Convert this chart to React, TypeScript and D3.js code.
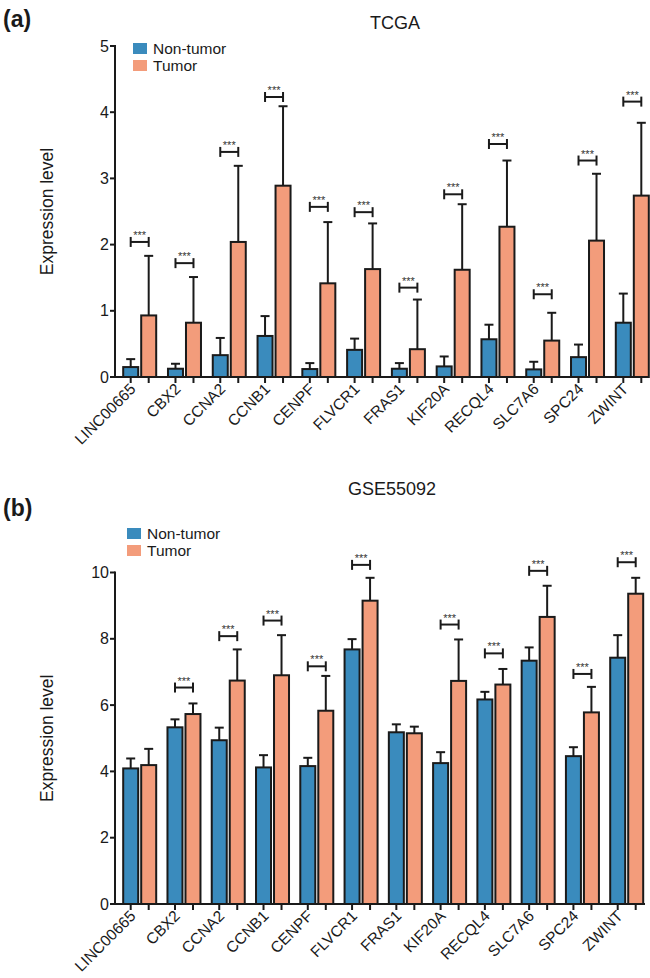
import React from "react";
import * as d3 from "d3";

const width = 650;
const height = 978;
const font = "'Liberation Sans', Arial, sans-serif";

const blue = "#3a8bbd";
const orange = "#f39c7b";
const ink = "#1a1a1a";

const genes = [
  "LINC00665", "CBX2", "CCNA2", "CCNB1", "CENPF", "FLVCR1",
  "FRAS1", "KIF20A", "RECQL4", "SLC7A6", "SPC24", "ZWINT"
];
const groups = ["Non-tumor", "Tumor"];

// TCGA panel
const tcgaNormal = [0.15, 0.125, 0.33, 0.62, 0.12, 0.41, 0.125, 0.16, 0.57, 0.115, 0.3, 0.82];
const tcgaNormalSd = [0.12, 0.075, 0.26, 0.3, 0.09, 0.17, 0.085, 0.15, 0.22, 0.115, 0.19, 0.44];
const tcgaTumor = [0.93, 0.82, 2.04, 2.89, 1.415, 1.63, 0.42, 1.62, 2.27, 0.55, 2.06, 2.74];
const tcgaTumorSd = [0.9, 0.69, 1.15, 1.2, 0.925, 0.69, 0.75, 0.99, 1.0, 0.42, 1.01, 1.1];
const tcgaBracket = [2.04, 1.72, 3.4, 4.23, 2.57, 2.49, 1.35, 2.76, 3.52, 1.25, 3.27, 4.16];
const tcgaTicks = [0, 1, 2, 3, 4, 5];

// GSE55092 panel
const gseNormal = [4.09, 5.33, 4.94, 4.12, 4.16, 7.68, 5.18, 4.25, 6.17, 7.34, 4.46, 7.43];
const gseNormalSd = [0.3, 0.24, 0.38, 0.37, 0.25, 0.31, 0.24, 0.33, 0.23, 0.4, 0.27, 0.68];
const gseTumor = [4.19, 5.73, 6.74, 6.9, 5.83, 9.15, 5.15, 6.73, 6.62, 8.66, 5.78, 9.36];
const gseTumorSd = [0.49, 0.32, 0.94, 1.21, 1.05, 0.69, 0.2, 1.25, 0.47, 0.94, 0.77, 0.48];
const gseBracket = [null, 6.53, 8.08, 8.55, 7.17, 10.23, null, 8.43, 7.56, 10.05, 6.94, 10.31];
const gseTicks = [0, 2, 4, 6, 8, 10];

type PanelProps = {
  letter: string;
  title: string;
  top: number; // y of panel letter baseline
  y0: number;
  yTop: number;
  yMax: number;
  xFirst: number;
  xLast: number;
  axisEnd: number;
  ticks: number[];
  normal: number[];
  normalSd: number[];
  tumor: number[];
  tumorSd: number[];
  bracket: (number | null)[];
  legendX: number;
  legendY: number;
  titleX: number;
  titleY: number;
};

function Panel(p: PanelProps) {
  const axisX = 115;
  const x = d3.scalePoint().domain(genes).range([p.xFirst, p.xLast]);
  const sub = d3.scalePoint().domain(groups).range([-9, 9]);
  const y = d3.scaleLinear().domain([0, p.yMax]).range([p.y0, p.yTop]);
  const bw = 15;

  const bars = genes.flatMap((g, i) => [
    { g, key: groups[0], v: p.normal[i], sd: p.normalSd[i], fill: blue },
    { g, key: groups[1], v: p.tumor[i], sd: p.tumorSd[i], fill: orange }
  ]);

  return (
    <g>
      <text x={3} y={p.top} fontFamily={font} fontWeight="bold" fontSize={23} fill={ink}>
        ({p.letter})
      </text>
      <text x={p.titleX} y={p.titleY} fontFamily={font} fontSize={18} textAnchor="middle" fill={ink}>
        {p.title}
      </text>
      {/* legend */}
      {groups.map((gName, i) => (
        <g key={gName} transform={`translate(${p.legendX},${p.legendY + i * 17})`}>
          <rect x={0} y={0} width={14} height={11} fill={i === 0 ? blue : orange} />
          <text x={20} y={10.5} fontFamily={font} fontSize={15.5} fill={ink}>
            {gName}
          </text>
        </g>
      ))}
      {/* y axis title */}
      <text
        transform={`translate(53,${(p.y0 + p.yTop) / 2}) rotate(-90)`}
        textAnchor="middle"
        fontFamily={font}
        fontSize={17.5}
        fill={ink}
      >
        Expression level
      </text>
      {/* bars */}
      {bars.map((d, i) => {
        const cx = (x(d.g) as number) + (sub(d.key) as number);
        const top = y(d.v);
        const eTop = y(d.v + d.sd);
        return (
          <g key={i}>
            <line x1={cx} x2={cx} y1={top} y2={eTop} stroke={ink} strokeWidth={2} />
            <line x1={cx - 4.5} x2={cx + 4.5} y1={eTop} y2={eTop} stroke={ink} strokeWidth={2} />
            <rect
              x={cx - bw / 2}
              y={top}
              width={bw}
              height={p.y0 - top}
              fill={d.fill}
              stroke={ink}
              strokeWidth={2}
            />
          </g>
        );
      })}
      {/* significance brackets */}
      {genes.map((g, i) => {
        const b = p.bracket[i];
        if (b == null) return null;
        const x1 = (x(g) as number) + (sub(groups[0]) as number);
        const x2 = (x(g) as number) + (sub(groups[1]) as number);
        const by = y(b);
        return (
          <g key={g}>
            <line x1={x1} x2={x2} y1={by} y2={by} stroke={ink} strokeWidth={2} />
            <line x1={x1} x2={x1} y1={by - 5} y2={by + 5} stroke={ink} strokeWidth={2} />
            <line x1={x2} x2={x2} y1={by - 5} y2={by + 5} stroke={ink} strokeWidth={2} />
            <text
              x={(x1 + x2) / 2}
              y={by - 3}
              textAnchor="middle"
              fontFamily={font}
              fontSize={11}
              fill="#333"
            >
              ***
            </text>
          </g>
        );
      })}
      {/* y axis */}
      <line x1={axisX} x2={axisX} y1={p.y0 + 1} y2={p.yTop - 1} stroke={ink} strokeWidth={2} />
      {p.ticks.map((t) => (
        <g key={t}>
          <line x1={axisX - 5} x2={axisX} y1={y(t)} y2={y(t)} stroke={ink} strokeWidth={2} />
          <text
            x={axisX - 6}
            y={y(t)}
            dy="0.35em"
            textAnchor="end"
            fontFamily={font}
            fontSize={16}
            fill={ink}
          >
            {t}
          </text>
        </g>
      ))}
      {/* x axis */}
      <line x1={axisX - 1} x2={p.axisEnd} y1={p.y0} y2={p.y0} stroke={ink} strokeWidth={2} />
      {bars.map((d, i) => {
        const cx = (x(d.g) as number) + (sub(d.key) as number);
        return <line key={i} x1={cx} x2={cx} y1={p.y0} y2={p.y0 + 6} stroke={ink} strokeWidth={2} />;
      })}
      {genes.map((g) => (
        <text
          key={g}
          transform={`translate(${(x(g) as number) - 3},${p.y0 + 13}) rotate(-45)`}
          textAnchor="end"
          fontFamily={font}
          fontSize={15.5}
          fill={ink}
        >
          {g}
        </text>
      ))}
    </g>
  );
}

export default function App() {
  return (
    <svg width={width} height={height} style={{ display: "block", position: "absolute", left: 0, top: 0, background: "#fff" }}>
      <rect width={width} height={height} fill="#fff" />
      <Panel
        letter="a"
        title="TCGA"
        top={27}
        y0={377}
        yTop={46}
        yMax={5}
        xFirst={139.7}
        xLast={632.3}
        axisEnd={649}
        ticks={tcgaTicks}
        normal={tcgaNormal}
        normalSd={tcgaNormalSd}
        tumor={tcgaTumor}
        tumorSd={tcgaTumorSd}
        bracket={tcgaBracket}
        legendX={133}
        legendY={43}
        titleX={395}
        titleY={29}
      />
      <Panel
        letter="b"
        title="GSE55092"
        top={516}
        y0={904}
        yTop={572.5}
        yMax={10}
        xFirst={139.7}
        xLast={626.7}
        axisEnd={645}
        ticks={gseTicks}
        normal={gseNormal}
        normalSd={gseNormalSd}
        tumor={gseTumor}
        tumorSd={gseTumorSd}
        bracket={gseBracket}
        legendX={127}
        legendY={528}
        titleX={392}
        titleY={495}
      />
    </svg>
  );
}
